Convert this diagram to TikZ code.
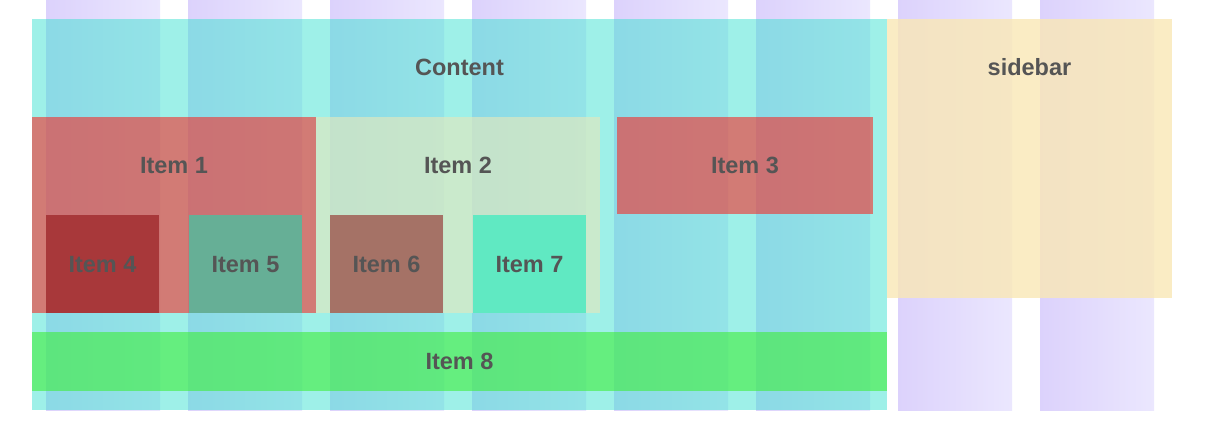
\documentclass[tikz,border=0pt]{standalone}
\usepackage{fontspec}
\setmainfont{Liberation Sans}
\usetikzlibrary{calc}
\definecolor{colL}{RGB}{220,210,252}
\definecolor{colR}{RGB}{235,231,254}
\definecolor{contentc}{RGB}{61,225,209}
\definecolor{sidec}{RGB}{249,231,181}
\definecolor{redc}{RGB}{245,45,40}
\definecolor{beigec}{RGB}{227,232,189}
\definecolor{greenc}{RGB}{63,237,58}
\definecolor{c4}{RGB}{168,56,58}
\definecolor{c5}{RGB}{102,175,150}
\definecolor{c6}{RGB}{165,114,102}
\definecolor{c7}{RGB}{96,233,194}
\definecolor{txt}{RGB}{85,85,85}
\begin{document}
\begin{tikzpicture}[x=1pt,y=-1pt,
  box/.style={draw=none, inner sep=0pt, outer sep=0pt, rectangle, anchor=north west},
  lbl/.style={font=\fontsize{23.5}{28}\selectfont\bfseries, text=txt, inner sep=0pt, text height=16.8pt, text depth=0pt}]
\useasboundingbox (0,0) rectangle (1207,445);
% grid columns
\foreach \x in {46,188,330,472,614,756,898,1040}
  \shade[left color=colL, right color=colR] (\x,0) rectangle (\x+114,410);
% content and sidebar
\node[box, fill=contentc, fill opacity=0.5, minimum width=855pt, minimum height=391pt] (content) at (32,19) {};
\node[box, fill=sidec, fill opacity=0.8, minimum width=285pt, minimum height=279pt] (sidebar) at (887,19) {};
\node[lbl] (contentlbl) at ($(content.north)+(0,48)$) {Content};
\node[lbl] (sidebarlbl) at ($(sidebar.north)+(0,48)$) {sidebar};
% items
\node[box, fill=redc, fill opacity=0.6, minimum width=284pt, minimum height=196pt] (item1) at (32,117) {};
\node[box, fill=beigec, fill opacity=0.65, minimum width=284pt, minimum height=196pt] (item2) at (316,117) {};
\node[lbl] (item1lbl) at ($(item1.north)+(0,48)$) {Item 1};
\node[lbl] (item2lbl) at ($(item2.north)+(0,48)$) {Item 2};
\node[box, fill=redc, fill opacity=0.6, minimum width=256pt, minimum height=97pt, lbl, text opacity=1] (item3) at (617,117) {Item 3};
\node[box, fill=c4, minimum width=113pt, minimum height=98pt, lbl] (item4) at (46,215) {Item 4};
\node[box, fill=c5, minimum width=113pt, minimum height=98pt, lbl] (item5) at (189,215) {Item 5};
\node[box, fill=c6, minimum width=113pt, minimum height=98pt, lbl] (item6) at (330,215) {Item 6};
\node[box, fill=c7, minimum width=113pt, minimum height=98pt, lbl] (item7) at (473,215) {Item 7};
\node[box, fill=greenc, fill opacity=0.6, text opacity=1, minimum width=855pt, minimum height=59pt, lbl] (item8) at (32,332) {Item 8};
\end{tikzpicture}
\end{document}
